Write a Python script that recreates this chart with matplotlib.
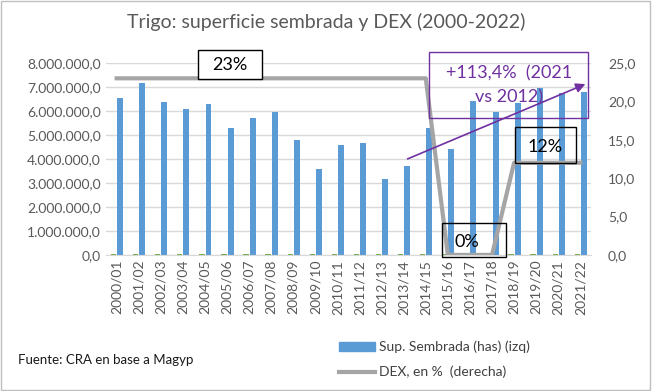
import matplotlib.pyplot as plt
import matplotlib.ticker as mticker
from matplotlib.lines import Line2D
from matplotlib.patches import Patch, Rectangle
import numpy as np

plt.rcParams['font.family'] = ['Lato', 'DejaVu Sans']

campanias = ['2000/01', '2001/02', '2002/03', '2003/04', '2004/05', '2005/06',
             '2006/07', '2007/08', '2008/09', '2009/10', '2010/11', '2011/12',
             '2012/13', '2013/14', '2014/15', '2015/16', '2016/17', '2017/18',
             '2018/19', '2019/20', '2020/21', '2021/22']
sup_sembrada = [6530000, 7150000, 6360000, 6080000, 6300000, 5280000,
                5720000, 5960000, 4780000, 3580000, 4600000, 4650000,
                3180000, 3710000, 5280000, 4430000, 6420000, 5970000,
                6320000, 6970000, 6740000, 6800000]
otra_serie = [45000] * 22
dex = [23, 23, 23, 23, 23, 23, 23, 23, 23, 23, 23, 23, 23, 23, 23,
       0, 0, 0, 12, 12, 12, 12]

W, H = 652, 391
fig = plt.figure(figsize=(W / 100, H / 100), dpi=100)
ax = fig.add_axes([0.162, 0.348, 0.745, 0.491])
x = np.arange(len(campanias))

ax.bar(x - 0.14, otra_serie, width=0.24, color='#70AD47', zorder=2)
ax.bar(x + 0.16, sup_sembrada, width=0.27, color='#5B9BD5', zorder=2)
ax.set_ylim(0, 8000000)
ax.set_xlim(-0.5, len(campanias) - 0.5)
ax.yaxis.set_major_locator(mticker.MultipleLocator(1000000))
ax.yaxis.set_major_formatter(mticker.FuncFormatter(
    lambda v, p: f'{v:,.1f}'.replace(',', 'X').replace('.', ',').replace('X', '.')))
ax.grid(axis='y', color='#D9D9D9', lw=1, zorder=0)
ax.set_xticks(x)
ax.set_xticklabels(campanias, rotation=90, fontsize=10, color='#595959')
ax.tick_params(axis='y', labelsize=10, labelcolor='#595959', length=0)
ax.tick_params(axis='x', length=0)
for s in ax.spines.values():
    s.set_visible(False)
ax.spines['bottom'].set_visible(True)
ax.spines['bottom'].set_color('#D9D9D9')

ax2 = ax.twinx()
ax2.plot(x, dex, color='#A5A5A5', lw=3, zorder=3)
ax2.set_ylim(0, 25)
ax2.yaxis.set_major_locator(mticker.MultipleLocator(5))
ax2.yaxis.set_major_formatter(mticker.FuncFormatter(lambda v, p: f'{v:.1f}'.replace('.', ',')))
ax2.tick_params(axis='y', labelsize=10, labelcolor='#595959', length=0, pad=12)
for s in ax2.spines.values():
    s.set_visible(False)

fig.text(0.5, 0.945, 'Trigo: superficie sembrada y DEX (2000-2022)', ha='center', va='center',
         fontsize=14, color='#595959')


# helper: box in pixel coords (left, top, right, bottom) from the top-left corner
def caja(l, t, r, b, fc='none', ec='black'):
    fig.add_artist(Rectangle((l / W, 1 - b / H), (r - l) / W, (b - t) / H,
                             transform=fig.transFigure, fc=fc, ec=ec, lw=1, zorder=5))


caja(198, 50, 262, 79, fc='white')
fig.text(230 / W, 1 - 65 / H, '23%', ha='center', va='center', fontsize=13, zorder=6)
caja(442, 223, 506, 257)
fig.text(467 / W, 1 - 242 / H, '0%', ha='center', va='center', fontsize=13, zorder=6)
caja(515, 127, 576, 163)
fig.text(545 / W, 1 - 147 / H, '12%', ha='center', va='center', fontsize=13, zorder=6)

caja(429, 52, 588, 118, ec='#7030A0')
fig.text(509 / W, 1 - 73 / H, '+113,4%  (2021', ha='center', va='center', fontsize=13,
         color='#7030A0', zorder=6)
fig.text(509 / W, 1 - 97 / H, 'vs 2012)', ha='center', va='center', fontsize=13,
         color='#7030A0', zorder=6)
fig.add_artist(plt.Annotation('', xy=(588 / W, 1 - 83 / H), xytext=(405 / W, 1 - 160 / H),
                              xycoords='figure fraction',
                              arrowprops=dict(arrowstyle='-|>', color='#7030A0', lw=1.2,
                                              mutation_scale=14)))

handles = [Patch(color='#5B9BD5'), Line2D([0], [0], color='#A5A5A5', lw=3)]
fig.legend(handles, ['Sup. Sembrada (has) (izq)', 'DEX, en %  (derecha)'],
           loc='lower left', bbox_to_anchor=(0.5, 0.0), frameon=False, fontsize=10,
           labelcolor='#404040', handlelength=2.6, labelspacing=0.9, handletextpad=0.3)

fig.text(18 / W, 1 - 360 / H, 'Fuente: CRA en base a Magyp', fontsize=9.5,
         color='#1a1a1a', va='center')

fig.add_artist(Rectangle((0.002, 0.003), 0.995, 0.994, transform=fig.transFigure,
                         fill=False, ec='#BFBFBF', lw=1))

fig.savefig('out.png', dpi=100)
